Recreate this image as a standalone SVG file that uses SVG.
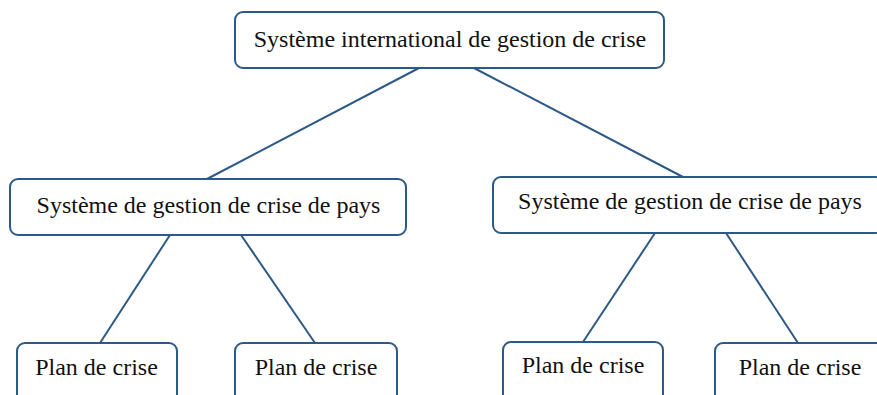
<svg xmlns="http://www.w3.org/2000/svg" width="877" height="395" viewBox="0 0 877 395">
<style>
.box{fill:#fff;stroke:#2d5987;stroke-width:2}
.lbl{font-family:'Liberation Serif','Times New Roman',serif;font-size:24px;fill:#111;text-anchor:middle}
.con line{stroke:#2d5987;stroke-width:2}
</style>
<rect width="877" height="395" fill="#fff"/>
<g class="con">
<line x1="419" y1="68" x2="207" y2="179"/>
<line x1="474" y1="68" x2="683" y2="177"/>
<line x1="170" y1="235" x2="100" y2="343"/>
<line x1="241" y1="235" x2="315" y2="343"/>
<line x1="655" y1="233" x2="583" y2="342"/>
<line x1="726" y1="233" x2="798" y2="343"/>
</g>
<g id="top"><rect class="box" x="235" y="12" width="429" height="56" rx="8"/><text class="lbl" x="450" y="47">Système international de gestion de crise</text></g>
<g id="midL"><rect class="box" x="10" y="179" width="396" height="56" rx="8"/><text class="lbl" x="208.5" y="213">Système de gestion de crise de pays</text></g>
<g id="midR"><rect class="box" x="493" y="177" width="390" height="56" rx="8"/><text class="lbl" x="690" y="209">Système de gestion de crise de pays</text></g>
<g id="p1"><rect class="box" x="17" y="343" width="160" height="60" rx="8"/><text class="lbl" x="96.5" y="375">Plan de crise</text></g>
<g id="p2"><rect class="box" x="235" y="343" width="162" height="60" rx="8"/><text class="lbl" x="316" y="375">Plan de crise</text></g>
<g id="p3"><rect class="box" x="503" y="342" width="160" height="60" rx="8"/><text class="lbl" x="583" y="373">Plan de crise</text></g>
<g id="p4"><rect class="box" x="715" y="343" width="170" height="60" rx="8"/><text class="lbl" x="800" y="375">Plan de crise</text></g>
</svg>
